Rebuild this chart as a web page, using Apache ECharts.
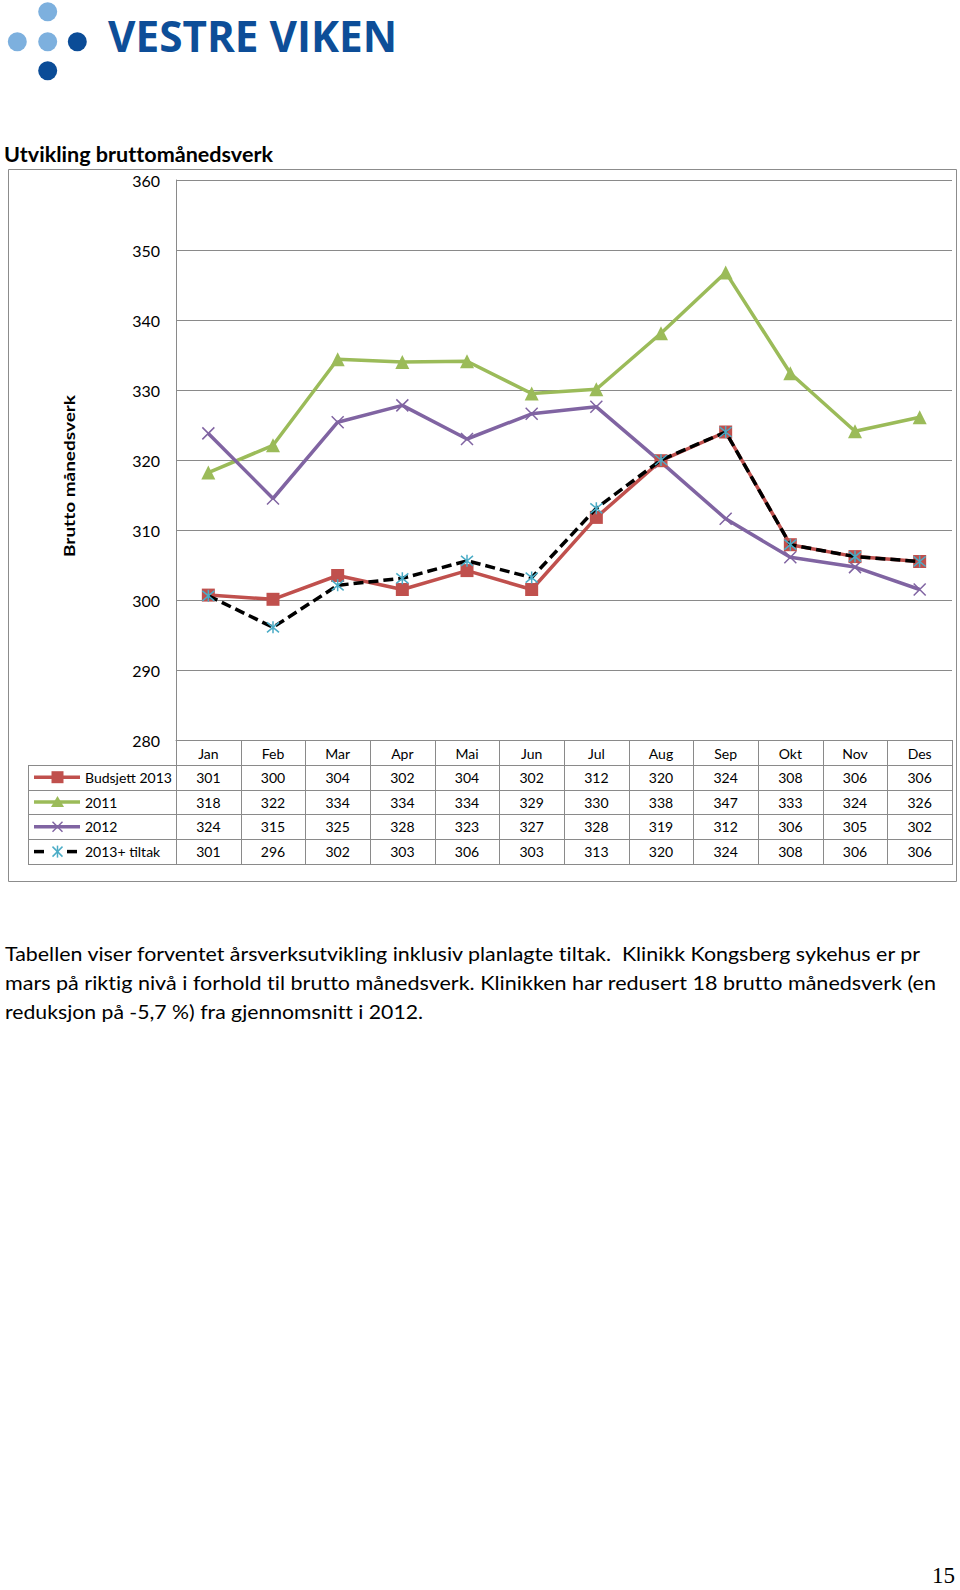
<!DOCTYPE html>
<html lang="no">
<head>
<meta charset="utf-8">
<title>Utvikling bruttomånedsverk</title>
<script src="https://cdn.jsdelivr.net/npm/echarts@6/dist/echarts.min.js"></script>
<style>
html,body{margin:0;padding:0;background:#fff;}
body{width:960px;height:1590px;position:relative;overflow:hidden;}
#chart{position:absolute;left:0;top:0;width:960px;height:900px;}
#page{position:absolute;left:0;top:0;width:960px;height:1590px;pointer-events:none;}
#page text{white-space:pre;}
text{font-variant-ligatures:none;font-feature-settings:"liga" 0,"clig" 0;}
</style>
</head>
<body>
<div id="chart"></div>
<svg id="page" width="960" height="1590" xmlns="http://www.w3.org/2000/svg">
  <g fill="#7DB0DE">
    <circle cx="47.7" cy="11.8" r="9.5"/>
    <circle cx="17.3" cy="41.7" r="9.5"/>
    <circle cx="47.7" cy="41.7" r="9.5"/>
  </g>
  <g fill="#0B4C97">
    <circle cx="77.3" cy="41.7" r="9.5"/>
    <circle cx="47.7" cy="70.7" r="9.5"/>
  </g>
  <text x="108" y="51.7" font-family="Open Sans" font-weight="bold" font-size="43.5" fill="#0D4E98" textLength="289" lengthAdjust="spacingAndGlyphs">VESTRE VIKEN</text>
  <text x="4" y="161.7" font-family="Lato" font-weight="bold" font-size="20.5" fill="#000" textLength="269" lengthAdjust="spacingAndGlyphs">Utvikling bruttomånedsverk</text>
  <text transform="translate(75,476) rotate(-90)" text-anchor="middle" font-family="Lato" font-weight="bold" font-size="16" fill="#000" textLength="162" lengthAdjust="spacingAndGlyphs">Brutto månedsverk</text>
  <text x="5" y="961" font-family="Lato" font-size="20" fill="#000" textLength="915" lengthAdjust="spacingAndGlyphs">Tabellen viser forventet årsverksutvikling inklusiv planlagte tiltak.  Klinikk Kongsberg sykehus er pr</text>
  <text x="5" y="990" font-family="Lato" font-size="20" fill="#000" textLength="931" lengthAdjust="spacingAndGlyphs">mars på riktig nivå i forhold til brutto månedsverk. Klinikken har redusert 18 brutto månedsverk (en</text>
  <text x="5" y="1019" font-family="Lato" font-size="20" fill="#000" textLength="418" lengthAdjust="spacingAndGlyphs">reduksjon på -5,7 %) fra gjennomsnitt i 2012.</text>
  <text x="932" y="1583" font-family="Liberation Serif" font-size="24" fill="#000" textLength="23" lengthAdjust="spacingAndGlyphs">15</text>
</svg>
<script>
// ---- data ----
const months = ['Jan', 'Feb', 'Mar', 'Apr', 'Mai', 'Jun', 'Jul', 'Aug', 'Sep', 'Okt', 'Nov', 'Des'];
const seriesNames = ['Budsjett 2013', '2011', '2012', '2013+ tiltak'];
// plotted values
const budsjett2013 = [300.7, 300.1, 303.5, 301.5, 304.2, 301.5, 311.8, 319.9, 324.0, 307.9, 306.2, 305.5];
const year2011 = [318.2, 322.1, 334.4, 334.0, 334.1, 329.5, 330.1, 338.1, 346.8, 332.4, 324.1, 326.1];
const year2012 = [323.8, 314.5, 325.4, 327.8, 323.0, 326.6, 327.6, 319.7, 311.6, 306.1, 304.7, 301.5];
const tiltak2013 = [300.6, 296.1, 302.1, 303.1, 305.6, 303.2, 313.1, 320.0, 324.0, 307.9, 306.2, 305.5];
// data table values (as printed)
const tableBudsjett2013 = [301, 300, 304, 302, 304, 302, 312, 320, 324, 308, 306, 306];
const table2011 = [318, 322, 334, 334, 334, 329, 330, 338, 347, 333, 324, 326];
const table2012 = [324, 315, 325, 328, 323, 327, 328, 319, 312, 306, 305, 302];
const tableTiltak2013 = [301, 296, 302, 303, 306, 303, 313, 320, 324, 308, 306, 306];
const yMin = 280, yMax = 360, yStep = 10;

// ---- styles ----
const RED = '#C0504D', GREEN = '#9BBB59', PURPLE = '#8064A2', CYAN = '#4BACC6', GRID = '#8A8A8A';
const X_PATH = 'path://M0,0L10,10M10,0L0,10';
const STAR_PATH = 'path://M0,0L10,10M10,0L0,10M5,-1L5,11';

const chart = echarts.init(document.getElementById('chart'), null, { renderer: 'svg', width: 960, height: 900 });
const G = { left: 176, top: 180, width: 776, height: 560 };

chart.setOption({
  animation: false,
  textStyle: { fontFamily: 'Lato' },
  grid: { left: G.left, top: G.top, width: G.width, height: G.height, containLabel: false },
  xAxis: {
    type: 'category', data: months, boundaryGap: true,
    axisLine: { show: true, lineStyle: { color: GRID, width: 1 } },
    axisTick: { show: false },
    axisLabel: { color: '#000', fontSize: 14, margin: 6 },
    splitLine: { show: false }
  },
  yAxis: {
    type: 'value', min: yMin, max: yMax, interval: yStep,
    axisLine: { show: true, lineStyle: { color: GRID, width: 1 } },
    axisTick: { show: false },
    axisLabel: { color: '#000', fontSize: 16, margin: 16 },
    splitLine: { show: true, lineStyle: { color: GRID, width: 1 } }
  },
  series: [
    { name: seriesNames[0], type: 'line', data: budsjett2013, z: 3,
      symbol: 'rect', symbolSize: 13, showAllSymbol: true,
      lineStyle: { color: RED, width: 3.5 }, itemStyle: { color: RED },
      emphasis: { disabled: true } },
    { name: seriesNames[1], type: 'line', data: year2011, z: 2,
      symbol: 'triangle', symbolSize: 14, showAllSymbol: true,
      lineStyle: { color: GREEN, width: 3.5 }, itemStyle: { color: GREEN },
      emphasis: { disabled: true } },
    { name: seriesNames[2], type: 'line', data: year2012, z: 2,
      symbol: X_PATH, symbolSize: 12, showAllSymbol: true,
      lineStyle: { color: PURPLE, width: 3.5 },
      itemStyle: { color: 'none', borderColor: PURPLE, borderWidth: 1.5 },
      emphasis: { disabled: true } },
    { name: seriesNames[3], type: 'line', data: tiltak2013, z: 4,
      symbol: STAR_PATH, symbolSize: 12, showAllSymbol: true,
      lineStyle: { color: '#000', width: 3.5, type: [10, 5] },
      itemStyle: { color: 'none', borderColor: CYAN, borderWidth: 1.5 },
      emphasis: { disabled: true } }
  ]
});

// ---- data table & frame built from the arrays ----
const tables = [tableBudsjett2013, table2011, table2012, tableTiltak2013];
const gfx = [];
const L = G.left, R = G.left + G.width, T = G.top + G.height, RH = 24.8, LEG = 28;
const colW = G.width / months.length;
const ln = (x1, y1, x2, y2, style) => ({ type: 'line', silent: true, z: 10,
  shape: { x1, y1, x2, y2 }, style: Object.assign({ stroke: GRID, lineWidth: 1 }, style || {}) });

// outer chart frame
gfx.push({ type: 'rect', silent: true, z: 0, shape: { x: 8.5, y: 169.5, width: 948, height: 712 },
  style: { fill: 'none', stroke: '#8C8C8C', lineWidth: 1 } });
// table lines
gfx.push(ln(L, T + 0.5, R, T + 0.5));
for (let r = 1; r <= 5; r++) {
  const y = Math.round(T + r * RH) + 0.5;
  gfx.push(ln(LEG, y, R, y));
}
gfx.push(ln(LEG + 0.5, Math.round(T + RH), LEG + 0.5, Math.round(T + 5 * RH) + 1));
for (let k = 0; k <= months.length; k++) {
  const x = Math.round(L + k * colW) + 0.5;
  gfx.push(ln(x, T, x, Math.round(T + 5 * RH) + 1));
}
// values
tables.forEach((arr, r) => {
  const cy = T + (r + 1.5) * RH;
  arr.forEach((v, i) => {
    const cx = chart.convertToPixel({ xAxisIndex: 0 }, months[i]);
    gfx.push({ type: 'text', silent: true, z: 11, x: cx, y: cy,
      style: { text: String(v), fill: '#000', font: '14px Lato', textAlign: 'center', textVerticalAlign: 'middle' } });
  });
  // legend keys
  const sx1 = 34, sx2 = 80, mx = 57.5;
  if (r === 3) {
    gfx.push(ln(sx1, cy, 44, cy, { stroke: '#000', lineWidth: 3.5 }));
    gfx.push(ln(67, cy, 77, cy, { stroke: '#000', lineWidth: 3.5 }));
  } else {
    gfx.push(ln(sx1, cy, sx2, cy, { stroke: [RED, GREEN, PURPLE][r], lineWidth: 3.5 }));
  }
  if (r === 0) {
    gfx.push({ type: 'rect', silent: true, z: 12, shape: { x: mx - 6, y: cy - 6, width: 12, height: 12 }, style: { fill: RED } });
  } else if (r === 1) {
    gfx.push({ type: 'polygon', silent: true, z: 12, shape: { points: [[mx, cy - 6], [mx + 6.5, cy + 5], [mx - 6.5, cy + 5]] }, style: { fill: GREEN } });
  } else if (r === 2) {
    gfx.push(ln(mx - 5, cy - 5, mx + 5, cy + 5, { stroke: PURPLE, lineWidth: 1.5 }));
    gfx.push(ln(mx + 5, cy - 5, mx - 5, cy + 5, { stroke: PURPLE, lineWidth: 1.5 }));
  } else {
    gfx.push(ln(mx - 5, cy - 5, mx + 5, cy + 5, { stroke: CYAN, lineWidth: 1.5 }));
    gfx.push(ln(mx + 5, cy - 5, mx - 5, cy + 5, { stroke: CYAN, lineWidth: 1.5 }));
    gfx.push(ln(mx, cy - 6, mx, cy + 6, { stroke: CYAN, lineWidth: 1.5 }));
  }
  gfx.push({ type: 'text', silent: true, z: 11, x: 85, y: cy,
    style: { text: seriesNames[r], fill: '#000', font: '14px Lato', textAlign: 'left', textVerticalAlign: 'middle' } });
});
chart.setOption({ graphic: { elements: gfx } });
</script>
</body>
</html>
